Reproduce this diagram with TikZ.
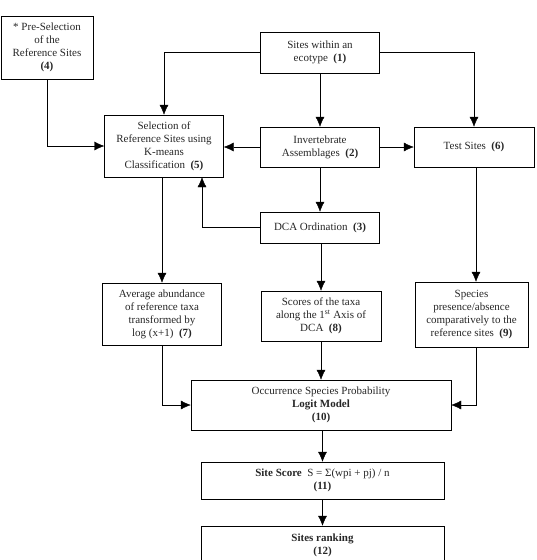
\documentclass[tikz,border=0pt]{standalone}
\usepackage{fontspec}
\setmainfont{Liberation Serif}
\usetikzlibrary{arrows.meta}

\begin{document}
\begin{tikzpicture}[x=1pt,y=-1pt]
    \tikzstyle{every picture}=[line width=0.9pt]
    \tikzstyle{every node}=[draw,rectangle,align=center,inner sep=2pt,
        font=\fontsize{11}{13}\selectfont,text=black!85]
    \tikzstyle{arr}=[-{Latex[length=10pt,width=9pt]}]
    \useasboundingbox (0,0) rectangle (537,560);
    \draw (320,52.5) node[minimum width=119pt,minimum height=41pt] (1) {Sites within an\\ecotype \ \textbf{(1)}};
    \draw (320,147) node[minimum width=119pt,minimum height=40pt] (2) {Invertebrate\\Assemblages \ \textbf{(2)}};
    \draw (320,227.5) node[minimum width=119pt,minimum height=31pt] (3) {DCA Ordination \ \textbf{(3)}};
    \draw (47,47.5) node[minimum width=92pt,minimum height=63pt] (4) {* Pre-Selection\\of the\\Reference Sites\\\textbf{(4)}};
    \draw (164,146) node[minimum width=119pt,minimum height=62pt] (5) {Selection of\\Reference Sites using\\K-means\\Classification \ \textbf{(5)}};
    \draw (474,147) node[minimum width=120pt,minimum height=40pt] (6) {Test Sites \ \textbf{(6)}};
    \draw (162,314) node[minimum width=119pt,minimum height=62pt] (7) {Average abundance\\of reference taxa\\transformed by\\log (x+1) \ \textbf{(7)}};
    \draw (321,316) node[minimum width=120pt,minimum height=50pt] (8) {Scores of the taxa\\along the 1\textsuperscript{st} Axis of\\DCA \ \textbf{(8)}};
    \draw (471.5,314.5) node[minimum width=113pt,minimum height=65pt] (9) {Species\\presence/absence\\comparatively to the\\reference sites \ \textbf{(9)}};
    \draw (321,405) node[minimum width=260pt,minimum height=50pt] (10) {Occurrence Species Probability\\\textbf{Logit Model}\\\textbf{(10)}};
    \draw (322.5,480.5) node[minimum width=243pt,minimum height=37pt] (11) {\textbf{Site Score} \ S = Σ(wpi + pj) / n\\\textbf{(11)}};
    \draw (322.5,545) node[minimum width=243pt,minimum height=38pt] (12) {\textbf{Sites ranking}\\\textbf{(12)}};
    \draw[arr] (1.west) -| (5.north);
    \draw[arr] (1.east) -| (6.north);
    \draw[arr] (1) -- (2);
    \draw[arr] (4.south) |- (5.west);
    \draw[arr] (2.west) -- (2.west -| 5.east);
    \draw[arr] (2) -- (6);
    \draw[arr] (2) -- (3);
    \draw[arr] (3.west) -| ([xshift=38pt]5.south);
    \draw[arr] (7.north |- 5.south) -- (7.north);
    \draw[arr] (3.south -| 8.north) -- (8.north);
    \draw[arr] ([xshift=2pt]6.south) -- ([xshift=2pt]6.south |- 9.north);
    \draw[arr] (7.south) |- (10.west);
    \draw[arr] ([xshift=5pt]9.south) |- (10.east);
    \draw[arr] (8) -- (10);
    \draw[arr] (10.south -| 11.north) -- (11.north);
    \draw[arr] (11) -- (12);
\end{tikzpicture}
\end{document}
